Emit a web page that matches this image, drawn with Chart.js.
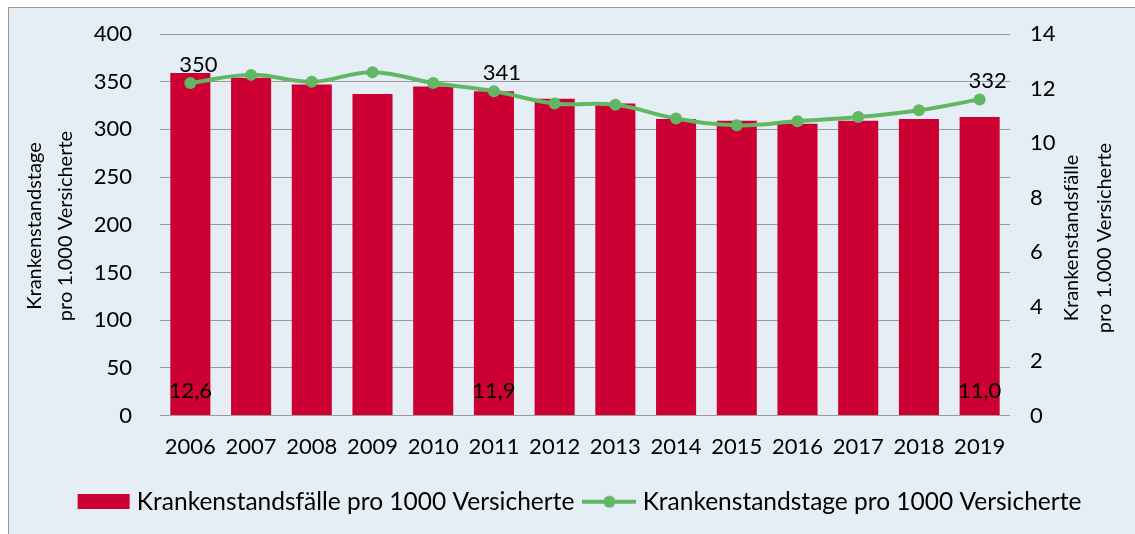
<!DOCTYPE html>
<html>
<head>
<meta charset="utf-8">
<script src="https://cdn.jsdelivr.net/npm/chart.js@4"></script>
<style>
  html, body { margin: 0; padding: 0; background: #fff; }
  #frame { position: absolute; left: 8px; top: 7px; width: 1127px; height: 527px;
           background: #e5eef4; border-left: 1px solid #9a9a9a; border-top: 1px solid #9a9a9a; }
  #wrap { position: absolute; left: 0; top: 0; width: 1135px; height: 534px; }
</style>
</head>
<body>
<div id="frame"></div>
<div id="wrap"><canvas id="chart" width="1135" height="534"></canvas></div>
<script>
const years = ['2006', '2007', '2008', '2009', '2010', '2011', '2012', '2013', '2014', '2015', '2016', '2017', '2018', '2019'];
const faelle = [359, 354, 347, 337, 345, 340, 332, 327, 311, 309, 306, 309, 311, 313];
const tage = [12.2, 12.5, 12.25, 12.6, 12.2, 11.9, 11.45, 11.4, 10.9, 10.65, 10.8, 10.95, 11.2, 11.6];
const markedYears = ['2006', '2011', '2019'];
const topLabels = ['350', '341', '332'];
const bottomLabels = ['12,6', '11,9', '11,0'];

const leftTitle = ['Krankenstandstage', 'pro 1.000 Versicherte'];
const rightTitle = ['Krankenstandsfälle', 'pro 1.000 Versicherte'];
const legendNames = ['Krankenstandsfälle pro 1000 Versicherte', 'Krankenstandstage pro 1000 Versicherte'];

const RED = '#cc0033';
const GREEN = '#62b862';
const FONT = 'Lato, "Open Sans", sans-serif';

// legend symbols drawn once on small canvases
function barSymbol() {
  const c = document.createElement('canvas');
  c.width = 54; c.height = 15;
  const g = c.getContext('2d');
  g.fillStyle = RED;
  g.fillRect(1, 0, 52, 15);
  return c;
}
function lineSymbol() {
  const c = document.createElement('canvas');
  c.width = 54; c.height = 14;
  const g = c.getContext('2d');
  g.strokeStyle = GREEN; g.lineWidth = 4;
  g.beginPath(); g.moveTo(0, 7); g.lineTo(54, 7); g.stroke();
  g.fillStyle = GREEN;
  g.beginPath(); g.arc(27, 7, 6, 0, Math.PI * 2); g.fill();
  return c;
}
const symbols = [barSymbol(), lineSymbol()];

function rotatedTitle(ctx, lines, x, y, gap) {
  ctx.save();
  ctx.fillStyle = '#000';
  ctx.textAlign = 'center';
  ctx.textBaseline = 'middle';
  ctx.font = '20px ' + FONT;
  ctx.translate(x, y);
  ctx.rotate(-Math.PI / 2);
  lines.forEach((t, i) => ctx.fillText(t, 0, i * gap));
  ctx.restore();
}

const extras = {
  id: 'extras',
  afterDatasetsDraw(chart) {
    const ctx = chart.ctx;
    const bars = chart.getDatasetMeta(0).data;
    const points = chart.getDatasetMeta(1).data;
    const y0 = chart.scales.y.getPixelForValue(0);
    ctx.save();
    ctx.fillStyle = '#000';
    ctx.font = '22px ' + FONT;
    ctx.textAlign = 'center';
    ctx.textBaseline = 'middle';
    markedYears.forEach((yr, i) => {
      const idx = years.indexOf(yr);
      const p = points[idx];
      ctx.fillText(topLabels[i], p.x + 8, p.y - 18);
      ctx.fillText(bottomLabels[i], bars[idx].x, y0 - 25);
    });
    ctx.restore();
  },
  afterDraw(chart) {
    rotatedTitle(chart.ctx, leftTitle, 35, 226, 31);
    rotatedTitle(chart.ctx, rightTitle, 1072, 238, 33);
  }
};

new Chart(document.getElementById('chart'), {
  type: 'bar',
  data: {
    labels: years,
    datasets: [
      {
        type: 'bar',
        label: legendNames[0],
        data: faelle,
        yAxisID: 'y',
        backgroundColor: RED,
        barPercentage: 0.66,
        categoryPercentage: 1,
        order: 1,
      },
      {
        type: 'line',
        label: legendNames[1],
        data: tage,
        yAxisID: 'y1',
        borderColor: GREEN,
        backgroundColor: GREEN,
        borderWidth: 4,
        pointRadius: 6,
        pointHoverRadius: 6,
        pointBorderWidth: 0,
        tension: 0.4,
        order: 0,
      },
    ],
  },
  options: {
    responsive: false,
    animation: false,
    layout: { padding: { top: 34, left: 29, right: 0, bottom: 10 } },
    plugins: {
      tooltip: { enabled: false },
      legend: {
        position: 'bottom',
        labels: {
          color: '#000',
          font: { family: FONT, size: 24.5 },
          usePointStyle: true,
          pointStyleWidth: 42,
          padding: 14,
          sort: (a, b) => a.datasetIndex - b.datasetIndex,
          generateLabels(chart) {
            const items = Chart.defaults.plugins.legend.labels.generateLabels(chart);
            items.forEach((it) => { it.pointStyle = symbols[it.datasetIndex]; });
            return items;
          },
        },
      },
    },
    scales: {
      x: {
        grid: { display: false },
        border: { display: false },
        ticks: { color: '#000', font: { family: FONT, size: 22 }, padding: 10, maxRotation: 0 },
        afterFit(s) { s.height = 60; },
      },
      y: {
        position: 'left',
        min: 0,
        max: 400,
        // tick padding also pads the top of the axis, so the gap comes from an invisible tick instead
        ticks: { stepSize: 50, color: '#000', font: { family: FONT, size: 22 }, padding: 2 },
        grid: { color: '#9a9a9a', tickColor: 'transparent', tickLength: 26 },
        border: { display: false },
        afterFit(s) { s.width = 131; },
      },
      y1: {
        position: 'right',
        min: 0,
        max: 14,
        ticks: { stepSize: 2, color: '#000', font: { family: FONT, size: 22 }, padding: 2 },
        grid: { drawOnChartArea: false, tickColor: 'transparent', tickLength: 18 },
        border: { display: false },
        afterFit(s) { s.width = 125; },
      },
    },
  },
  plugins: [extras],
});
</script>
</body>
</html>
